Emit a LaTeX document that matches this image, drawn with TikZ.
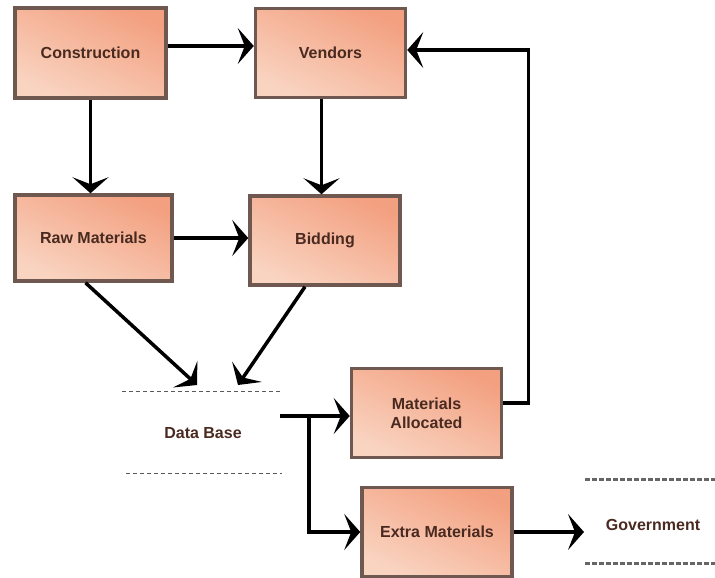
\documentclass[tikz,border=0pt]{standalone}
\usepackage{fontspec}
\setmainfont{Liberation Sans}
\usetikzlibrary{arrows.meta}
\definecolor{boxtop}{HTML}{F3A080}
\definecolor{boxbot}{HTML}{F9D4C1}
\definecolor{boxedge}{HTML}{6F5850}
\definecolor{boxtext}{HTML}{4A2A20}

\begin{document}
\begin{tikzpicture}[x = 1pt, y = -1pt,
  box/.style = {draw = boxedge, line width = 3.5pt, top color = boxtop, bottom color = boxbot, shading angle = -25,
    minimum width = 150pt, minimum height = 89pt, align = center, text = boxtext,
    font = \bfseries\fontsize{16}{19}\selectfont},
  store/.style = {text = boxtext, font = \bfseries\fontsize{16}{19}\selectfont},
  flow/.style = {-{Stealth[length=16pt,width=36pt,inset=7pt]}, line width = 3.5pt},
  dbline/.style = {dash pattern = on 4pt off 3pt, line width = 1pt, black!65},
  govline/.style = {dash pattern = on 5pt off 2pt, line width = 3pt, black!60}]
\useasboundingbox (0, 0) rectangle (715, 578);

\node[box, minimum width = 151pt, minimum height = 90pt] (cons) at (90.5, 53) {Construction};
\node[box] (vend) at (330.5, 53) {Vendors};
\node[box, minimum width = 157pt, minimum height = 86pt] (raw) at (93.5, 238) {Raw Materials};
\node[box] (bid) at (325, 240.5) {Bidding};
\node[box] (mat) at (426.5, 413) {Materials\\Allocated};
\node[box] (extra) at (437, 532) {Extra Materials};

\node[store] (db) at (203, 433) {Data Base};
\node[store] (gov) at (653, 525) {Government};
\draw[dbline] (122, 391) -- (280, 391);
\draw[dbline] (126, 473) -- (282, 473);
\draw[govline] (585, 479) -- (715, 479);
\draw[govline] (585, 563) -- (715, 563);

\coordinate (dbin1) at (197, 385);
\coordinate (dbin2) at (238, 385);
\coordinate (dbout) at (280, 416);
\coordinate (split) at (309, 416);
\coordinate (govin) at (584, 532);

\draw[flow] ([yshift = 7pt]cons.east) -- ([yshift = 7pt]vend.west);
\draw[flow] (cons.south) -- (cons.south |- raw.north);
\draw[flow] ([xshift = -9pt]vend.south) -- ([xshift = -9pt]vend.south |- bid.north);
\draw[flow] (raw.east) -- (raw.east -| bid.west);
\draw[flow] ([xshift = -8pt]raw.south) -- (dbin1);
\draw[flow] ([xshift = -20pt]bid.south) -- (dbin2);
\draw[flow] (dbout) -- (dbout -| mat.west);
\draw[flow] (split) |- (extra.west);
\draw[flow] ([yshift = 10pt]mat.east) -- ++(25, 0) |- ([yshift = 3pt]vend.east);
\draw[flow] (extra.east) -- (govin);
\end{tikzpicture}
\end{document}
